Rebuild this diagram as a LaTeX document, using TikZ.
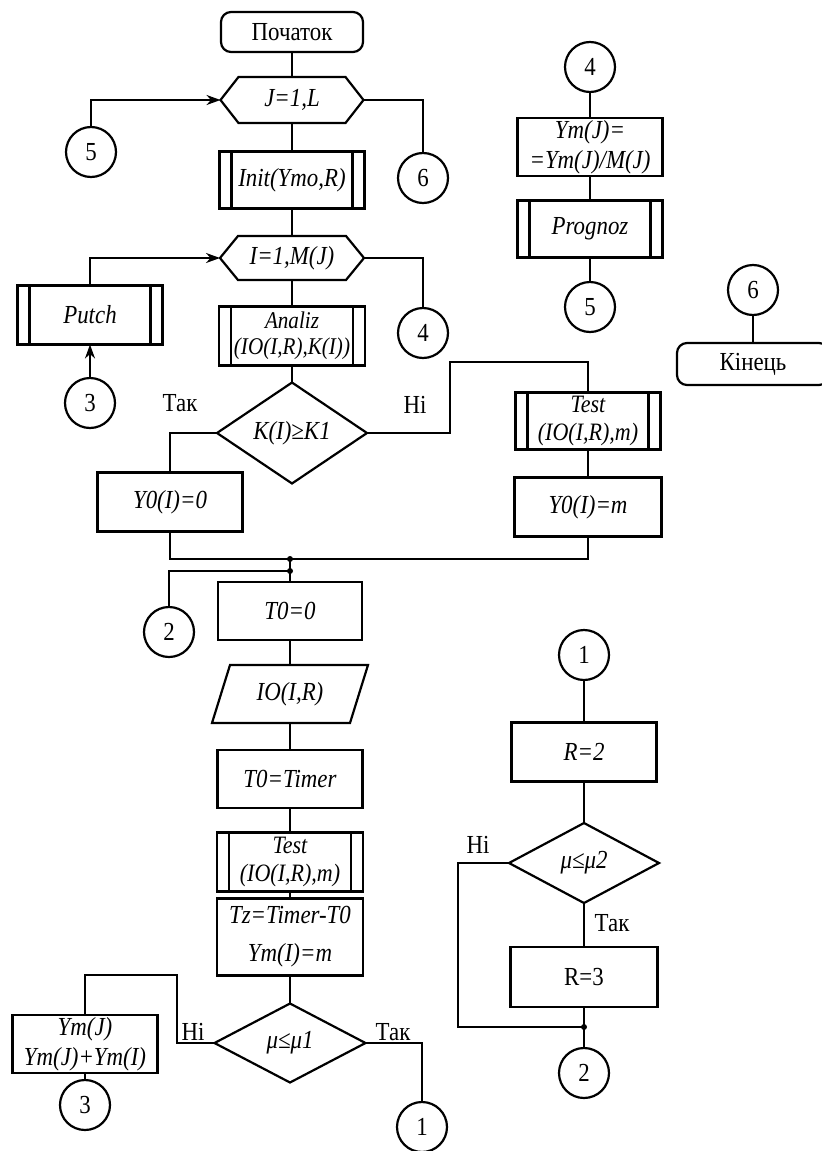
\documentclass[tikz,border=0pt]{standalone}
\usepackage{fontspec}
\setmainfont{Liberation Serif}[FakeStretch=0.88]
\usetikzlibrary{shapes.geometric,arrows.meta}
\tikzset{
  line/.style={line width=1.1pt},
  base/.style={line, outer sep=0pt, inner sep=1pt, align=center, font=\fontsize{13}{15}\selectfont},
  box/.style={base, draw, rectangle},
  sub/.style={box, path picture={
     \draw[line] ([xshift=6pt]path picture bounding box.north west) -- ([xshift=6pt]path picture bounding box.south west);
     \draw[line] ([xshift=-6pt]path picture bounding box.north east) -- ([xshift=-6pt]path picture bounding box.south east);}},
  term/.style={base, draw, rectangle, rounded corners=5pt},
  conn/.style={base, draw, circle, minimum size=25pt, inner sep=0pt},
  dec/.style={base, draw, diamond, inner sep=0pt},
  hexa/.style={base, rectangle},
  lbl/.style={font=\fontsize{13}{15}\selectfont, inner sep=1pt},
  arr/.style={line, -{Stealth[length=7pt,width=5pt]}},
  dot/.style={circle, fill, inner sep=0pt, minimum size=3pt},
}
\newcommand\hexpath[1]{\draw[line] (#1.west) -- ([xshift=9pt]#1.north west) -- ([xshift=-9pt]#1.north east) -- (#1.east) -- ([xshift=-9pt]#1.south east) -- ([xshift=9pt]#1.south west) -- cycle;}
\begin{document}
\begin{tikzpicture}[x=0.5pt,y=-0.5pt]
\useasboundingbox (0,0) rectangle (822,1151);
% main column
\node[term, minimum width=71pt, minimum height=20pt] (start) at (292,32) {Початок};
\node[hexa, minimum width=71.5pt, minimum height=23pt] (jhex) at (292,100) {\itshape J=1,L};
\hexpath{jhex}
\node[sub, minimum width=72.5pt, minimum height=28.5pt] (init) at (292,180) {\itshape Init(Ymo,R)};
\node[hexa, minimum width=72pt, minimum height=22pt] (ihex) at (292,258) {\itshape I=1,M(J)};
\hexpath{ihex}
\node[sub, minimum width=73pt, minimum height=29.5pt, inner sep=0pt, font=\fontsize{12}{13}\selectfont] (analiz) at (292,336) {\itshape Analiz\\\itshape (IO(I,R),K(I))};
\node[dec, minimum width=75pt, minimum height=40pt] (kd) at (292,433) {\itshape K(I)≥K1};
\node[box, minimum width=72.5pt, minimum height=29.5pt] (y00) at (170,502) {\itshape Y0(I)=0};
\node[box, minimum width=72pt, minimum height=29pt] (t00) at (290,611) {\itshape T0=0};
\node[hexa, minimum width=78pt, minimum height=29pt] (io) at (290,694) {\itshape IO(I,R)};
\draw[line] (io.south west) -- ([xshift=-9pt]io.south east) -- (io.north east) -- ([xshift=9pt]io.north west) -- cycle;
\node[sub, minimum width=73pt, minimum height=29.5pt, inner sep=0pt, font=\fontsize{12.5}{14}\selectfont] (test1) at (290,862) {\itshape Test\\\itshape (IO(I,R),m)};
\node[box, minimum width=72.5pt, minimum height=29pt] (timer) at (290,779) {\itshape T0=Timer};
\node[box, minimum width=73pt, minimum height=38.5pt, font=\fontsize{13}{19}\selectfont] (tz) at (290,937) {\itshape Tz=Timer-T0\\\itshape Ym(I)=m};
\node[dec, minimum width=75.5pt, minimum height=39.5pt] (mu1) at (290,1043) {\itshape μ≤μ1};
\node[box, minimum width=72.5pt, minimum height=29pt, font=\fontsize{13}{15}\selectfont] (ymj) at (85,1044) {\itshape Ym(J)\\\itshape Ym(J)+Ym(I)};
\node[conn] (c3b) at (85,1105) {3};
\node[conn] (c1b) at (422,1127) {1};
% left side
\node[conn] (c5) at (91,152) {5};
\node[sub, minimum width=72.5pt, minimum height=29.5pt] (putch) at (90,315) {\itshape Putch};
\node[conn] (c3) at (90,403) {3};
\node[conn] (c6) at (423,178) {6};
\node[conn] (c4) at (423,333) {4};
\node[conn] (c2) at (169,632) {2};
% right top
\node[conn] (c4r) at (590,67) {4};
\node[box, minimum width=72.5pt, minimum height=28.5pt, font=\fontsize{13}{15}\selectfont] (ymdiv) at (590,147) {\itshape Ym(J)=\\\itshape =Ym(J)/M(J)};
\node[sub, minimum width=72.5pt, minimum height=28.5pt] (prog) at (590,229) {\itshape Prognoz};
\node[conn] (c5r) at (590,307) {5};
\node[conn] (c6r) at (753,290) {6};
\node[term, minimum width=76pt, minimum height=21pt] (fin) at (753,364) {Кінець};
\node[sub, minimum width=72.5pt, minimum height=28.5pt, inner sep=0pt, font=\fontsize{12.5}{14}\selectfont] (test2) at (588,421) {\itshape Test\\\itshape (IO(I,R),m)};
\node[box, minimum width=73.5pt, minimum height=29.5pt] (y0m) at (588,507) {\itshape Y0(I)=m};
% right bottom
\node[conn] (c1) at (584,655) {1};
\node[box, minimum width=72.5pt, minimum height=29.5pt] (r2) at (584,752) {\itshape R=2};
\node[dec, minimum width=75pt, minimum height=40pt] (mu2) at (584,863) {\itshape μ≤μ2};
\node[box, minimum width=73.5pt, minimum height=30pt] (r3) at (584,977) {R=3};
\node[conn] (c2r) at (584,1073) {2};
% labels
\node[lbl] (tak1) at (180,403) {Так};
\node[lbl] (ni1) at (415,405) {Ні};
\node[lbl] (ni2) at (193,1032) {Ні};
\node[lbl] (tak2) at (393,1032) {Так};
\node[lbl] (ni3) at (478,845) {Ні};
\node[lbl] (tak3) at (612,923) {Так};
% junctions
\coordinate (j1) at (290,559);
\coordinate (j2) at (290,571);
\coordinate (j3) at (584,1027);
\coordinate (k1) at (450,362);
\coordinate (m1) at (177,975);
\coordinate (m2) at (458,1027);
\node[dot] (d1) at (j1) {};
\node[dot] (d2) at (j2) {};
\node[dot] (d3) at (j3) {};
% connectors
\draw[line] (start) -- (jhex);
\draw[line] (jhex) -- (init);
\draw[line] (init) -- (ihex);
\draw[line] (ihex) -- (analiz);
\draw[line] (analiz) -- (kd);
\draw[arr] (c5.north) |- (jhex.west);
\draw[line] (jhex.east) -| (c6.north);
\draw[arr] (putch.north) |- (ihex.west);
\draw[line] (ihex.east) -| (c4.north);
\draw[arr] (c3.north) -- (putch.south);
\draw[line] (kd.west) -| (y00.north);
\draw[line] (kd.east) -| (k1) -| (test2.north);
\draw[line] (test2) -- (y0m);
\draw[line] (y00.south) |- (j1);
\draw[line] (y0m.south) |- (j1);
\draw[line] (c2.north) |- (j2);
\draw[line] (j1) -- (j2) -- (t00.north);
\draw[line] (t00) -- (io);
\draw[line] (io) -- (timer);
\draw[line] (timer) -- (test1);
\draw[line] (test1) -- (tz);
\draw[line] (tz) -- (mu1);
\draw[line] (mu1.west) -| (m1) -| (ymj.north);
\draw[line] (mu1.east) -| (c1b.north);
\draw[line] (ymj) -- (c3b);
\draw[line] (c4r) -- (ymdiv);
\draw[line] (ymdiv) -- (prog);
\draw[line] (prog) -- (c5r);
\draw[line] (c6r) -- (fin);
\draw[line] (c1) -- (r2);
\draw[line] (r2) -- (mu2);
\draw[line] (mu2) -- (r3);
\draw[line] (r3.south) -- (j3) -- (c2r.north);
\draw[line] (mu2.west) -| (m2) -- (j3);
\end{tikzpicture}
\end{document}
